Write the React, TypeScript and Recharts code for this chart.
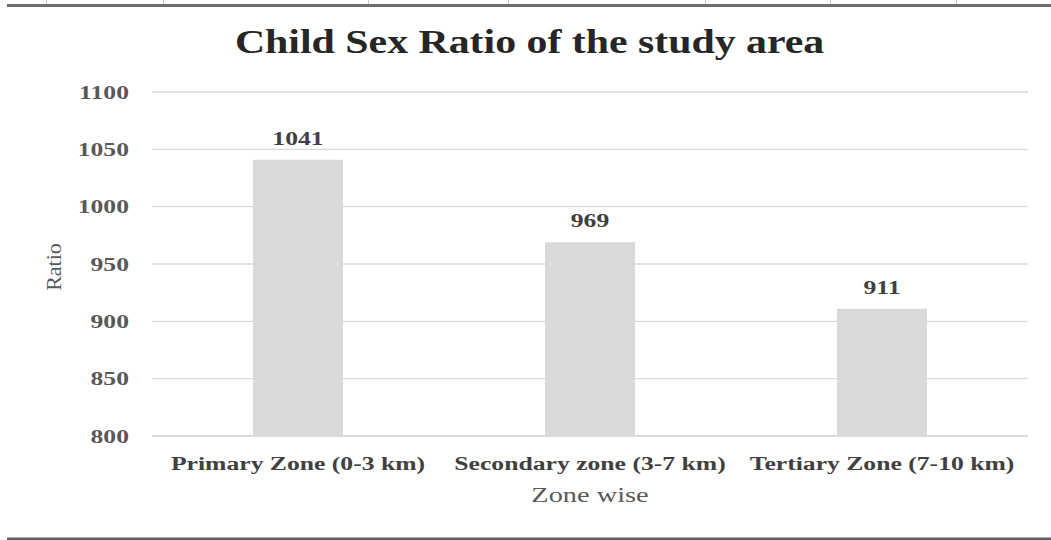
import React from "react";
import { BarChart, Bar, XAxis, YAxis, CartesianGrid, LabelList, Label } from "recharts";

// child sex ratio per zone (girls per 1000 boys)
const categories = ["Primary Zone (0-3 km)", "Secondary zone (3-7 km)", "Tertiary Zone (7-10 km)"];
const ratios = [1041, 969, 911];
const yTicks = [800, 850, 900, 950, 1000, 1050, 1100];

const data = categories.map((zone, i) => ({ zone, ratio: ratios[i] }));

const FONT = '"Liberation Serif", "Times New Roman", serif';
const SX = 1.35; // the source picture is stretched sideways

function YTick({ x, y, payload }: any) {
  return (
    <g transform={`translate(${x},${y}) scale(${SX},1)`}>
      <text x={0} y={0} dy="0.35em" textAnchor="end" fontFamily={FONT} fontSize={19} fontWeight={700} fill="#595959">
        {payload.value}
      </text>
    </g>
  );
}

function XTick({ x, y, payload }: any) {
  return (
    <g transform={`translate(${x},${y}) scale(${SX},1)`}>
      <text x={0} y={34} textAnchor="middle" fontFamily={FONT} fontSize={19} fontWeight={700} fill="#404040">
        {payload.value}
      </text>
    </g>
  );
}

function ValueLabel({ x, y, width, value }: any) {
  return (
    <g transform={`translate(${x + width / 2},${y - 15}) scale(${SX},1)`}>
      <text x={0} y={0} textAnchor="middle" fontFamily={FONT} fontSize={19} fontWeight={700} fill="#404040">
        {value}
      </text>
    </g>
  );
}

function XTitle({ viewBox }: any) {
  const cx = viewBox.x + viewBox.width / 2;
  return (
    <g transform={`translate(${cx},${viewBox.y + 66}) scale(${SX},1)`}>
      <text x={0} y={0} textAnchor="middle" fontFamily={FONT} fontSize={21} fill="#595959">Zone wise</text>
    </g>
  );
}

function YTitle({ viewBox }: any) {
  const cy = viewBox.y + viewBox.height / 2;
  return (
    <g transform={`translate(53,${cy + 3}) rotate(-90)`}>
      <text x={0} y={0} dy="0.35em" textAnchor="middle" fontFamily={FONT} fontSize={22} fill="#595959">Ratio</text>
    </g>
  );
}

const topTicks = [46, 163, 368, 508, 705, 830, 956];

export default function App() {
  return (
    <div style={s.page}>
      <div style={s.topLine} />
      {topTicks.map(t => <div key={t} style={{ ...s.tick, left: t }} />)}
      <div style={s.titleWrap}>
        <span style={s.title}>Child Sex Ratio of the study area</span>
      </div>
      <BarChart width={1051} height={540} data={data} margin={{ top: 92, right: 23, bottom: 0, left: 0 }}>
        <CartesianGrid stroke="#d9d9d9" strokeWidth={1.3} vertical={false} />
        <XAxis dataKey="zone" height={104} tick={<XTick />} tickLine={false} tickSize={0} tickMargin={0}
          axisLine={{ stroke: "#d9d9d9", strokeWidth: 1.3 }} interval={0}>
          <Label content={<XTitle />} />
        </XAxis>
        <YAxis width={152} domain={[800, 1100]} ticks={yTicks} tick={<YTick />} tickLine={false} tickSize={0}
          tickMargin={23} axisLine={false} allowDataOverflow>
          <Label content={<YTitle />} />
        </YAxis>
        <Bar dataKey="ratio" fill="#d9d9d9" barSize={90} isAnimationActive={false}>
          <LabelList dataKey="ratio" content={<ValueLabel />} />
        </Bar>
      </BarChart>
      <div style={s.bottomLine} />
    </div>
  );
}

const s: Record<string, React.CSSProperties> = {
  page: { position: "absolute", left: 0, top: 0, width: 1051, height: 540, background: "#fff", overflow: "hidden" },
  topLine: { position: "absolute", left: 7, right: 0, top: 4, height: 3, background: "#6e6e6e" },
  tick: { position: "absolute", top: 0, width: 1, height: 4, background: "#c8c8c8" },
  bottomLine: { position: "absolute", left: 7, right: 0, top: 537, height: 3, background: "#5e5e5e", borderTop: "1px solid #b0b0b0" },
  titleWrap: { position: "absolute", left: 0, width: 1060, top: 22, textAlign: "center", pointerEvents: "none" },
  title: {
    display: "inline-block", fontFamily: FONT, fontSize: 34, fontWeight: 700, color: "#262626",
    transform: "scaleX(1.23)", lineHeight: "40px",
  },
};
